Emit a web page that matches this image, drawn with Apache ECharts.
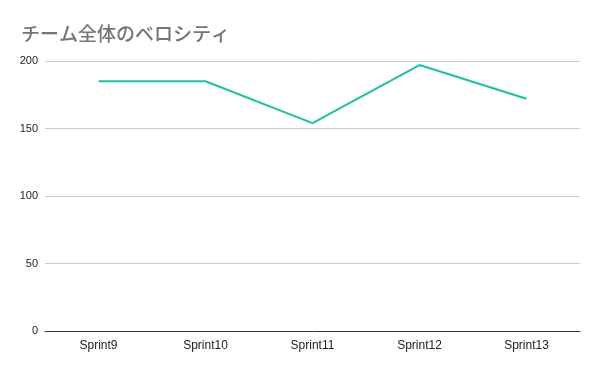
<!DOCTYPE html>
<html><head><meta charset="utf-8">
<script src="https://cdn.jsdelivr.net/npm/echarts@6/dist/echarts.min.js"></script>
<style>html,body{margin:0;padding:0;background:#fff}#c{width:600px;height:371px}</style>
</head><body><div id="c"></div>
<script>
const title = 'チーム全体のベロシティ';
const categories = ['Sprint9', 'Sprint10', 'Sprint11', 'Sprint12', 'Sprint13'];
const velocity = [185, 185, 154, 197, 172];
const yTicks = [0, 50, 100, 150, 200];

const chart = echarts.init(document.getElementById('c'), null, {renderer: 'canvas'});
chart.setOption({
  animation: false,
  backgroundColor: '#ffffff',
  title: {
    text: title, left: 16, top: 19,
    textStyle: {color: '#757575', fontSize: 19, fontWeight: 500, fontFamily: 'Noto Sans CJK JP'}
  },
  grid: {left: 45, right: 20, top: 61, bottom: 40},
  xAxis: {
    type: 'category', data: categories, boundaryGap: true,
    axisLine: {lineStyle: {color: '#333333', width: 1}},
    axisTick: {show: false},
    axisLabel: {color: '#222222', fontSize: 12, fontFamily: 'Liberation Sans', margin: 9}
  },
  yAxis: {
    type: 'value', min: yTicks[0], max: yTicks[yTicks.length - 1], interval: 50,
    axisLine: {show: false}, axisTick: {show: false},
    splitLine: {lineStyle: {color: '#cccccc', width: 1}},
    axisLabel: {color: '#222222', fontSize: 11, fontFamily: 'Liberation Sans', margin: 7}
  },
  series: [{
    type: 'line', data: velocity, symbol: 'none',
    lineStyle: {color: '#1cc29f', width: 2},
    itemStyle: {color: '#1cc29f'}
  }]
});
</script></body></html>
